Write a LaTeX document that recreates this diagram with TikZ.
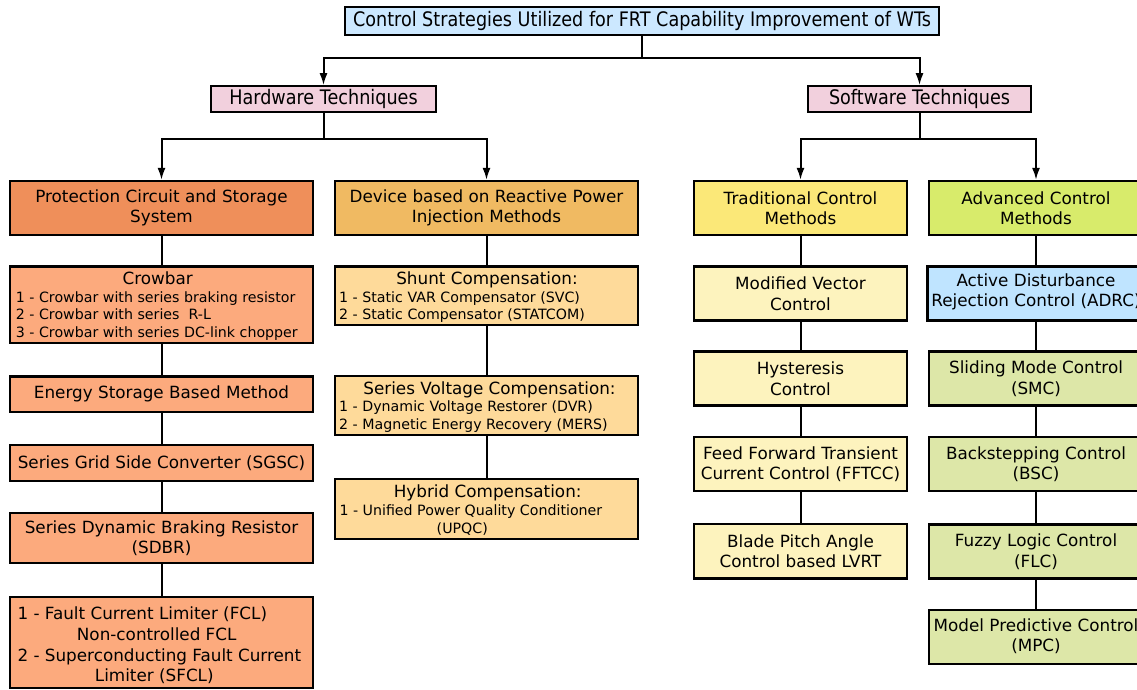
\documentclass[tikz,border=0pt]{standalone}
\usepackage{fontspec}
\setmainfont{DejaVu Sans}
\newfontfamily\condfont[FakeStretch=0.88]{DejaVu Sans}
\usetikzlibrary{arrows.meta}
\definecolor{topblue}{HTML}{CCE8FF}
\definecolor{adrcblue}{HTML}{BFE4FF}
\definecolor{pinkc}{HTML}{F2D0DD}
\definecolor{orA}{HTML}{EF8F5A}
\definecolor{orB}{HTML}{FCAA7D}
\definecolor{goA}{HTML}{F0BA62}
\definecolor{goB}{HTML}{FEDA9A}
\definecolor{yeA}{HTML}{FBE878}
\definecolor{yeB}{HTML}{FDF3BE}
\definecolor{grA}{HTML}{D8EB6B}
\definecolor{grB}{HTML}{DDE7A8}
\begin{document}
\begin{tikzpicture}[x=1pt,y=-1pt,
  box/.style={draw=black, line width=2.2pt, inner sep=0pt, align=center,
    font=\fontsize{16.8}{20.5}\selectfont},
  hbox/.style={draw=black, line width=1.6pt, inner sep=0pt, align=center,
    font=\condfont\fontsize{20}{22}\selectfont},
  lbl/.style={inner sep=0pt, font=\fontsize{16.8}{20.5}\selectfont},
  slbl/.style={inner sep=0pt, font=\fontsize{14.2}{17}\selectfont},
  conn/.style={line width=2pt},
  arr/.style={conn, -{Latex[length=12pt,width=8pt]}}]
\useasboundingbox (0,0) rectangle (1137,689);
% top level
\node[hbox, fill=topblue, minimum width=594pt, minimum height=28pt] (top) at (642,21)
  {Control Strategies Utilized for FRT Capability Improvement of WTs};
\node[hbox, fill=pinkc, minimum width=225pt, minimum height=26pt] (hw) at (323.5,99) {Hardware Techniques};
\node[hbox, fill=pinkc, minimum width=223pt, minimum height=26pt] (sw) at (919.5,99) {Software Techniques};
% column 1
\node[box, fill=orA, minimum width=303pt, minimum height=54pt] (p1) at (161.5,208) {Protection Circuit and Storage\\System};
\node[box, fill=orB, minimum width=303pt, minimum height=76.5pt] (p2) at (161.5,304.75) {};
\node[lbl, anchor=base] (p2t) at (157.7,284) {Crowbar};
\node[slbl, anchor=base west] (p2a) at (15.7,302) {1 - Crowbar with series braking resistor};
\node[slbl, anchor=base west] (p2b) at (15.7,319.3) {2 - Crowbar with series\ \ R-L};
\node[slbl, anchor=base west] (p2c) at (15.7,337.3) {3 - Crowbar with series DC-link chopper};
\node[box, fill=orB, minimum width=303pt, minimum height=35.5pt] (p3) at (161.5,394.25) {Energy Storage Based Method};
\node[box, fill=orB, minimum width=303pt, minimum height=36pt] (p4) at (161.5,463) {Series Grid Side Converter (SGSC)};
\node[box, fill=orB, minimum width=303pt, minimum height=50pt] (p5) at (161.5,538) {Series Dynamic Braking Resistor\\(SDBR)};
\node[box, fill=orB, minimum width=303pt, minimum height=91pt] (p6) at (161.5,642.5) {};
\node[lbl, anchor=base west] (p6a) at (17.3,619.3) {1 - Fault Current Limiter (FCL)};
\node[lbl, anchor=base] (p6b) at (156.7,640) {Non-controlled FCL};
\node[lbl, anchor=base west] (p6c) at (17.3,661) {2 - Superconducting Fault Current};
\node[lbl, anchor=base] (p6d) at (154.3,681.7) {Limiter (SFCL)};
% column 2
\node[box, fill=goA, minimum width=303pt, minimum height=54pt] (d1) at (486.5,208) {Device based on Reactive Power\\Injection Methods};
\node[box, fill=goB, minimum width=303pt, minimum height=58.5pt] (d2) at (486.5,295.75) {};
\node[lbl, anchor=base] (d2t) at (487,284.3) {Shunt Compensation:};
\node[slbl, anchor=base west] (d2a) at (339,302) {1 - Static VAR Compensator (SVC)};
\node[slbl, anchor=base west] (d2b) at (339,319.3) {2 - Static Compensator (STATCOM)};
\node[box, fill=goB, minimum width=303pt, minimum height=59pt] (d3) at (486.5,405.5) {};
\node[lbl, anchor=base] (d3t) at (489.5,394.3) {Series Voltage Compensation:};
\node[slbl, anchor=base west] (d3a) at (339,411) {1 - Dynamic Voltage Restorer (DVR)};
\node[slbl, anchor=base west] (d3b) at (339,429) {2 - Magnetic Energy Recovery (MERS)};
\node[box, fill=goB, minimum width=303pt, minimum height=60pt] (d4) at (486.5,509) {};
\node[lbl, anchor=base] (d4t) at (487.7,497) {Hybrid Compensation:};
\node[slbl, anchor=base west] (d4a) at (339.3,515) {1 - Unified Power Quality Conditioner};
\node[slbl, anchor=base] (d4b) at (462.3,533.3) {(UPQC)};
% column 3
\node[box, fill=yeA, minimum width=213pt, minimum height=54pt] (t1) at (800.5,208) {Traditional Control\\Methods};
\node[box, fill=yeB, minimum width=213pt, minimum height=54pt] (t2) at (800.5,293.5) {Modified Vector\\Control};
\node[box, fill=yeB, minimum width=213pt, minimum height=54pt] (t3) at (800.5,378.5) {Hysteresis\\Control};
\node[box, fill=yeB, minimum width=213pt, minimum height=54pt] (t4) at (800.5,464) {Feed Forward Transient\\Current Control (FFTCC)};
\node[box, fill=yeB, minimum width=213pt, minimum height=54.5pt] (t5) at (800.5,551.25) {Blade Pitch Angle\\Control based LVRT};
% column 4
\node[box, fill=grA, minimum width=214pt, minimum height=54pt] (a1) at (1036,208) {Advanced Control\\Methods};
\node[box, fill=adrcblue, minimum width=217pt, minimum height=54pt] (a2) at (1036,293.5) {};
\node[lbl, align=center] (a2t) at (1036,292) {Active Disturbance\\Rejection Control (ADRC)};
\node[box, fill=grB, minimum width=214pt, minimum height=54pt] (a3) at (1036,378.5) {Sliding Mode Control\\(SMC)};
\node[box, fill=grB, minimum width=214pt, minimum height=54pt] (a4) at (1036,464) {Backstepping Control\\(BSC)};
\node[box, fill=grB, minimum width=214pt, minimum height=54pt] (a5) at (1036,551.5) {Fuzzy Logic Control\\(FLC)};
\node[box, fill=grB, minimum width=214pt, minimum height=54pt] (a6) at (1036,637) {};
\node[lbl, align=center] (a6t) at (1036,636) {Model Predictive Control\\(MPC)};
% connectors
\path (top.south) ++(0,22) coordinate (j1);
\draw[conn] (top.south) -- (j1);
\draw[arr] (j1) -| (hw.north);
\draw[arr] (j1) -| (sw.north);
\path (hw.south) ++(0,26) coordinate (j2);
\draw[conn] (hw.south) -- (j2);
\draw[arr] (j2) -| (p1.north);
\draw[arr] (j2) -| (d1.north);
\path (sw.south) ++(0,26) coordinate (j3);
\draw[conn] (sw.south) -- (j3);
\draw[arr] (j3) -| (t1.north);
\draw[arr] (j3) -| (a1.north);
\draw[conn] (p1) -- (p2) (p2) -- (p3) (p3) -- (p4) (p4) -- (p5) (p5) -- (p6);
\draw[conn] (d1) -- (d2) (d2) -- (d3) (d3) -- (d4);
\draw[conn] (t1) -- (t2) (t2) -- (t3) (t3) -- (t4) (t4) -- (t5);
\draw[conn] (a1) -- (a2) (a2) -- (a3) (a3) -- (a4) (a4) -- (a5) (a5) -- (a6);
\end{tikzpicture}
\end{document}
